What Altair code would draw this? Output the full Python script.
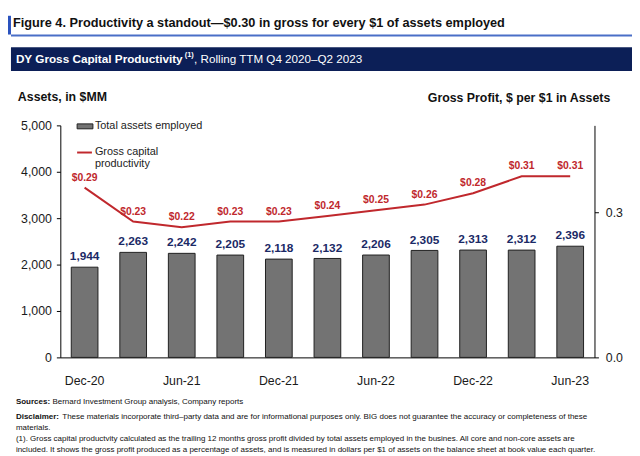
import altair as alt
import pandas as pd

# ---------------- data ----------------
periods = ["Dec-20", "Mar-21", "Jun-21", "Sep-21", "Dec-21", "Mar-22",
           "Jun-22", "Sep-22", "Dec-22", "Mar-23", "Jun-23"]
assets = [1944, 2263, 2242, 2205, 2118, 2132, 2206, 2305, 2313, 2312, 2396]
productivity = [0.29, 0.23, 0.22, 0.23, 0.23, 0.24, 0.25, 0.26, 0.28, 0.31, 0.31]
x_tick_labels = ["Dec-20", "Jun-21", "Dec-21", "Jun-22", "Dec-22", "Jun-23"]
left_ticks = [0, 1000, 2000, 3000, 4000, 5000]
right_ticks = [0.0, 0.3]

title_text = "Figure 4. Productivity a standout\u2014$0.30 in gross for every $1 of assets employed"
banner_bold = "DY Gross Capital Productivity"
banner_sup = "(1)"
banner_rest = ", Rolling TTM Q4 2020\u2013Q2 2023"
left_title = "Assets, in $MM"
right_title = "Gross Profit, $ per $1 in Assets"
legend_bar = "Total assets employed"
legend_line = ["Gross capital", "productivity"]
src_bold = "Sources:"
src_rest = "Bernard Investment Group analysis, Company reports"
disc_bold = "Disclaimer:"
disc_rest = ("These materials incorporate third\u2013party data and are for informational "
             "purposes only. BIG does not guarantee the accuracy or completeness of these")
disc_line2 = "materials."
note_line1 = ("(1). Gross capital productvity calculated as the trailing 12 months gross profit "
              "divided by total assets employed in the busines. All core and non-core assets are")
note_line2 = ("included. It shows the gross profit produced as a percentage of assets, and is "
              "measured in dollars per $1 of assets on the balance sheet at book value each quarter.")

FONT = "Liberation Sans, Arial, Helvetica, sans-serif"
BAR_FILL = "#737373"
BAR_STROKE = "#1f1f1f"
NAVY_TXT = "#1b2a66"
RED = "#c0282d"

df = pd.DataFrame({"period": periods, "assets": assets, "prod": productivity})
df["asset_label"] = [f"{v:,}" for v in assets]
df["prod_label"] = [f"${v:.2f}" for v in productivity]

base = alt.Chart(df)

x_enc = alt.X(
    "period:N", sort=periods,
    scale=alt.Scale(paddingInner=0.45, paddingOuter=0.225),
    axis=alt.Axis(title=None, labelAngle=0, values=x_tick_labels, ticks=False,
                  labelPadding=17, labelFontSize=12.5, labelColor="#1a1a1a",
                  labelFont=FONT, domainColor="#000000", domainWidth=1),
)

y_assets_scale = alt.Scale(domain=[0, 5000], nice=False, zero=True)

bars = base.mark_bar(color=BAR_FILL, stroke=BAR_STROKE, strokeWidth=1).encode(
    x=x_enc,
    y=alt.Y("assets:Q", scale=y_assets_scale,
            axis=alt.Axis(orient="left", values=left_ticks, format=",.0f", title=None,
                          grid=False, tickSize=4, labelPadding=5, labelFontSize=12.5,
                          labelColor="#1a1a1a", labelFont=FONT, domainColor="#000000",
                          tickColor="#000000")),
)

bar_labels = base.mark_text(baseline="bottom", dy=-4, fontSize=12, fontWeight="bold",
                            color=NAVY_TXT, font=FONT).encode(
    x=x_enc,
    y=alt.Y("assets:Q", scale=y_assets_scale, axis=None),
    text="asset_label:N",
)

y_line_scale = alt.Scale(domain=[-0.01, 0.40], nice=False, zero=False)

line = base.mark_line(color=RED, strokeWidth=2).encode(
    x=x_enc,
    y=alt.Y("prod:Q", scale=y_line_scale, axis=None),
)

line_labels = base.mark_text(baseline="bottom", dy=-5, fontSize=10.5, fontWeight="bold",
                             color=RED, font=FONT).encode(
    x=x_enc,
    y=alt.Y("prod:Q", scale=y_line_scale, axis=None),
    text="prod_label:N",
)

right_axis = base.mark_point(opacity=0).encode(
    x=x_enc,
    y=alt.Y("prod:Q", scale=alt.Scale(domain=[0, 0.48], nice=False),
            axis=alt.Axis(orient="right", values=right_ticks, format=".1f", title=None,
                          grid=False, tickSize=4, labelPadding=7, labelFontSize=12.5,
                          labelColor="#1a1a1a", labelFont=FONT, domainColor="#000000",
                          tickColor="#000000")),
)


def txt(s, x, y, size, weight="normal", color="#000000", align="left", baseline="middle"):
    return alt.Chart(pd.DataFrame({"t": [s]})).mark_text(
        align=align, baseline=baseline, fontSize=size, fontWeight=weight,
        color=color, font=FONT).encode(x=alt.value(x), y=alt.value(y), text="t:N")


def box(x1, x2, y1, y2, color, stroke=None):
    kw = {"color": color}
    if stroke:
        kw.update(stroke=stroke, strokeWidth=1)
    return alt.Chart(pd.DataFrame({"a": [0]})).mark_rect(**kw).encode(
        x=alt.value(x1), x2=alt.value(x2), y=alt.value(y1), y2=alt.value(y2))


def hline(x1, x2, y, color, width):
    return alt.Chart(pd.DataFrame({"a": [0]})).mark_rule(color=color, strokeWidth=width).encode(
        x=alt.value(x1), x2=alt.value(x2), y=alt.value(y))


FOOT = 8.1
# plot origin sits at page (61, 124); annotation coordinates are relative to it
annotations = [
    box(-53, -50, -111, -92, "#2a52be"),
    txt(title_text, -48, -104, 12.9, "bold", "#111111"),
    box(-50, 579, -92, -90, "#4a6fc7"),
    box(-50, 579, -79, -55, "#0c1f57"),
    txt(banner_bold, -45, -67, 11.9, "bold", "#ffffff"),
    txt(banner_sup, 126, -71, 7.5, "bold", "#ffffff"),
    txt(banner_rest, 135.5, -67, 11.8, "normal", "#ffffff"),
    txt(left_title, -43, -29, 12.5, "bold", "#111111"),
    txt(right_title, 557, -28, 12.5, "bold", "#111111", align="right"),
    box(17, 33, -1.5, 3.5, BAR_FILL, stroke=BAR_STROKE),
    txt(legend_bar, 35, 1, 11, "normal", "#222222"),
    hline(17, 32, 27.5, RED, 2),
    txt(legend_line[0], 35, 27, 11, "normal", "#222222"),
    txt(legend_line[1], 35, 39.5, 11, "normal", "#222222"),
    txt(src_bold, -45, 280, FOOT, "bold", "#111111"),
    txt(src_rest, -8, 280, FOOT, "normal", "#111111"),
    txt(disc_bold, -45, 295.5, FOOT, "bold", "#111111"),
    txt(disc_rest, 2, 295.5, FOOT, "normal", "#111111"),
    txt(disc_line2, -45, 306.5, FOOT, "normal", "#111111"),
    txt(note_line1, -45, 318, FOOT, "normal", "#111111"),
    txt(note_line2, -45, 329, FOOT, "normal", "#111111"),
]

chart = alt.layer(bars, bar_labels, line, line_labels, right_axis, *annotations).resolve_scale(
    y="independent"
).properties(
    width=541, height=235,
    autosize=alt.AutoSizeParams(type="none"),
    padding={"left": 53, "top": 116, "right": 38, "bottom": 97},
    background="#ffffff",
).configure_view(stroke=None)

chart.save("out.html", embed_options={"renderer": "svg", "actions": False})
